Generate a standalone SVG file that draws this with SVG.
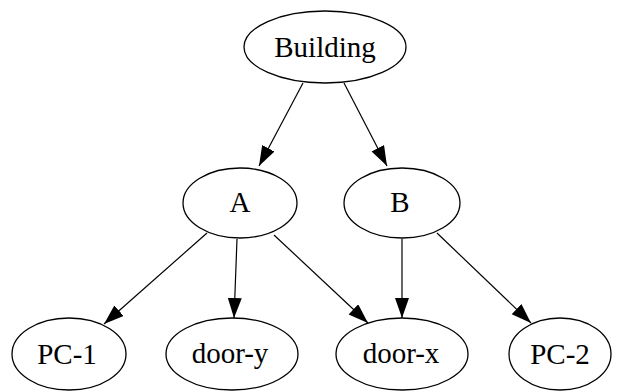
<svg xmlns="http://www.w3.org/2000/svg" width="617" height="392" viewBox="0 0 617 392">
<style>
.node ellipse{fill:#fff;stroke:#000;stroke-width:1.3}
.node text{font-family:"Liberation Serif","Times New Roman",serif;font-size:29px;fill:#000;text-anchor:middle}
.edges path{fill:none;stroke:#000;stroke-width:1.2;marker-end:url(#arr)}
</style>
<defs>
<marker id="arr" markerUnits="userSpaceOnUse" markerWidth="22" markerHeight="16" refX="20" refY="7" orient="auto" viewBox="0 0 22 16">
<path d="M0,0 L20,7 L0,14 Z" fill="#000"/>
</marker>
</defs>
<rect width="617" height="392" fill="#fff"/>
<g class="edges">
<path d="M303,83 L259,166"/>
<path d="M344,83 L387,166"/>
<path d="M207,233 L104,324"/>
<path d="M237,239 C236,270 235,292 234,318"/>
<path d="M274,235 L368,323"/>
<path d="M402,239 L402,318"/>
<path d="M437,233 L531,323"/>
</g>
<g id="building" class="node"><ellipse cx="325" cy="47" rx="81" ry="36"/><text x="325" y="57">Building</text></g>
<g id="A" class="node"><ellipse cx="240" cy="203" rx="57" ry="35"/><text x="240" y="212">A</text></g>
<g id="B" class="node"><ellipse cx="402" cy="203" rx="58" ry="35"/><text x="400" y="212">B</text></g>
<g id="pc1" class="node"><ellipse cx="69" cy="354" rx="57" ry="36"/><text x="67" y="364">PC-1</text></g>
<g id="doory" class="node"><ellipse cx="232" cy="354" rx="66" ry="36"/><text x="230" y="363">door-y</text></g>
<g id="doorx" class="node"><ellipse cx="402" cy="354" rx="66" ry="36"/><text x="401" y="363">door-x</text></g>
<g id="pc2" class="node"><ellipse cx="560" cy="354" rx="51" ry="36"/><text x="560" y="364">PC-2</text></g>
</svg>
